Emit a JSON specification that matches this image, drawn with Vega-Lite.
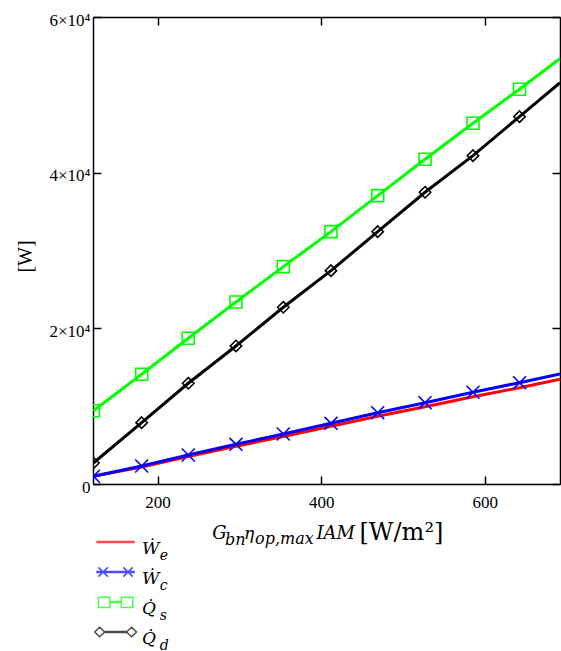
{
  "$schema": "https://vega.github.io/schema/vega-lite/v6.json",
  "width": 467,
  "height": 467,
  "autosize": {"type": "none"},
  "padding": {"left": 93, "top": 17, "right": 1, "bottom": 167},
  "background": "white",
  "config": {
    "view": {"stroke": null},
    "axis": {"grid": false, "domainColor": "black", "domainWidth": 1.5, "tickColor": "black", "tickWidth": 1.5, "labelColor": "black", "titleColor": "black"}
  },
  "data": {
    "values": [
      {"x": 121.5, "y": 1000, "s": "We"},
      {"x": 180.5, "y": 2185, "s": "We"},
      {"x": 237.5, "y": 3534, "s": "We"},
      {"x": 295.8, "y": 4845, "s": "We"},
      {"x": 353.7, "y": 6104, "s": "We"},
      {"x": 412.0, "y": 7415, "s": "We"},
      {"x": 469.1, "y": 8712, "s": "We"},
      {"x": 527.0, "y": 9933, "s": "We"},
      {"x": 585.6, "y": 11206, "s": "We"},
      {"x": 642.5, "y": 12376, "s": "We"},
      {"x": 692.0, "y": 13454, "s": "We"},
      {"x": 121.5, "y": 1000, "s": "Wc"},
      {"x": 180.5, "y": 2313, "s": "Wc"},
      {"x": 237.5, "y": 3727, "s": "Wc"},
      {"x": 295.8, "y": 5102, "s": "Wc"},
      {"x": 353.7, "y": 6425, "s": "Wc"},
      {"x": 412.0, "y": 7800, "s": "Wc"},
      {"x": 469.1, "y": 9162, "s": "Wc"},
      {"x": 527.0, "y": 10447, "s": "Wc"},
      {"x": 585.6, "y": 11784, "s": "Wc"},
      {"x": 642.5, "y": 13018, "s": "Wc"},
      {"x": 692.0, "y": 14135, "s": "Wc"},
      {"x": 121.5, "y": 9406, "s": "Qs"},
      {"x": 180.5, "y": 14096, "s": "Qs"},
      {"x": 237.5, "y": 18722, "s": "Qs"},
      {"x": 295.8, "y": 23387, "s": "Qs"},
      {"x": 353.7, "y": 27924, "s": "Qs"},
      {"x": 412.0, "y": 32421, "s": "Qs"},
      {"x": 469.1, "y": 37050, "s": "Qs"},
      {"x": 527.0, "y": 41724, "s": "Qs"},
      {"x": 585.6, "y": 46350, "s": "Qs"},
      {"x": 642.5, "y": 50719, "s": "Qs"},
      {"x": 692.0, "y": 54664, "s": "Qs"},
      {"x": 121.5, "y": 2700, "s": "Qd"},
      {"x": 180.5, "y": 7877, "s": "Qd"},
      {"x": 237.5, "y": 12940, "s": "Qd"},
      {"x": 295.8, "y": 17733, "s": "Qd"},
      {"x": 353.7, "y": 22706, "s": "Qd"},
      {"x": 412.0, "y": 27409, "s": "Qd"},
      {"x": 469.1, "y": 32421, "s": "Qd"},
      {"x": 527.0, "y": 37484, "s": "Qd"},
      {"x": 585.6, "y": 42187, "s": "Qd"},
      {"x": 642.5, "y": 47198, "s": "Qd"},
      {"x": 692.0, "y": 51550, "s": "Qd"}
    ]
  },
  "resolve": {
    "scale": {"color": "independent", "shape": "independent"},
    "axis": {"x": "independent", "y": "independent"}
  },
  "layer": [
    {
      "mark": {"type": "line", "strokeWidth": 3, "clip": true},
      "encoding": {
        "x": {"field": "x", "type": "quantitative", "scale": {"domain": [121, 692], "nice": false, "zero": false},
          "axis": {"orient": "bottom", "values": [200, 400, 600], "tickSize": -8, "labelPadding": 18, "labelFont": "Liberation Serif", "labelFontSize": 17, "labelBaseline": "top", "title": null}},
        "y": {"field": "y", "type": "quantitative", "scale": {"domain": [0, 60000], "nice": false},
          "axis": {"orient": "left", "values": [0, 20000, 40000, 60000], "tickSize": -8, "labelPadding": 11, "labelOffset": 3, "labelFont": "Liberation Serif", "labelFontSize": 17,
            "labelExpr": "datum.value == 0 ? '0' : (datum.value / 10000) + '\u00d710\u2074'",
            "title": "[W]", "titleFont": "Liberation Serif", "titleFontSize": 20, "titleFontWeight": "normal", "titleAngle": -90, "titleAlign": "center", "titleBaseline": "middle", "titleX": -68, "titleY": 239}},
        "color": {"field": "s", "type": "nominal", "scale": {"domain": ["We", "Wc", "Qs", "Qd"], "range": ["#ff0000", "#0000ff", "#00ff00", "#000000"]}, "legend": null}
      }
    },
    {
      "transform": [{"filter": "datum.s != 'We' && datum.x < 690"}],
      "mark": {"type": "point", "filled": false, "size": 144, "strokeWidth": 1.6, "opacity": 1, "clip": true},
      "encoding": {
        "x": {"field": "x", "type": "quantitative", "axis": {"orient": "top", "values": [200, 400, 600], "tickSize": -8, "labels": false, "title": null}},
        "y": {"field": "y", "type": "quantitative", "axis": {"orient": "right", "values": [0, 20000, 40000, 60000], "tickSize": -8, "labels": false, "title": null}},
        "color": {"field": "s", "type": "nominal", "scale": {"domain": ["Wc", "Qs", "Qd"], "range": ["#0000ff", "#00ff00", "#000000"]}, "legend": null},
        "shape": {"field": "s", "type": "nominal", "scale": {"domain": ["Wc", "Qs", "Qd"], "range": ["M-1.08,-1.08L1.08,1.08M1.08,-1.08L-1.08,1.08", "M-1,-1H1V1H-1Z", "M0,-0.95L0.95,0L0,0.95L-0.95,0Z"]}, "legend": null}
      }
    },
    {
      "transform": [{"filter": "datum.x < 0"}],
      "mark": {"type": "point", "filled": false},
      "encoding": {
        "x": {"field": "x", "type": "quantitative", "axis": {"orient": "bottom", "domain": false, "ticks": false, "labels": false, "title": "G", "titleFont": "DejaVu Serif", "titleFontStyle": "italic", "titleFontWeight": "normal", "titleFontSize": 18, "titleAlign": "left", "titleBaseline": "alphabetic", "titleX": 118.7, "titleY": 54}},
        "color": {"field": "s", "type": "nominal", "scale": {"domain": ["We", "Wc", "Qs", "Qd"], "range": ["#ff0000", "#0000ff", "#00ff00", "#000000"]},
          "legend": {"orient": "none", "legendX": 9.6, "legendY": 519, "title": null, "symbolSize": 562, "symbolStrokeWidth": 1.5, "symbolFillColor": "transparent", "padding": 0, "rowPadding": 0, "labelOffset": 13.4, "labelFont": "DejaVu Serif", "labelFontStyle": "italic", "labelFontSize": 17, "labelColor": "black",
            "labelExpr": "datum.label == 'We' || datum.label == 'Wc' ? '\u1e86' : 'Q\u0307'"}},
        "shape": {"field": "s", "type": "nominal", "scale": {"domain": ["We", "Wc", "Qs", "Qd"], "range": [
          "M0,-1L0,-1M0,1L0,1M-1.56,-0.64H1.56V-0.54H-1.56Z",
          "M0,-1L0,-1M0,1L0,1M-1.56,-0.64H1.56V-0.54H-1.56ZM-1.45,-0.98L-0.65,-0.2M-0.65,-0.98L-1.45,-0.2M0.65,-0.98L1.45,-0.2M1.45,-0.98L0.65,-0.2",
          "M0,-1L0,-1M0,1L0,1M-0.48,-0.64H0.48V-0.54H-0.48ZM-1.45,-1.0H-0.48V-0.12H-1.45ZM0.48,-1.0H1.45V-0.12H0.48Z",
          "M0,-1L0,-1M0,1L0,1M-0.92,-0.64H0.92V-0.54H-0.92ZM-1.76,-0.59L-1.35,-0.99L-0.92,-0.59L-1.35,-0.19ZM0.92,-0.59L1.35,-0.99L1.76,-0.59L1.35,-0.19Z"
        ]},
          "legend": {"orient": "none", "legendX": 9.6, "legendY": 519, "title": null, "symbolSize": 562, "symbolStrokeWidth": 1.5, "symbolFillColor": "transparent", "padding": 0, "rowPadding": 0, "labelOffset": 13.4, "labelFont": "DejaVu Serif", "labelFontStyle": "italic", "labelFontSize": 17, "labelColor": "black",
            "labelExpr": "datum.label == 'We' || datum.label == 'Wc' ? '\u1e86' : 'Q\u0307'"}}
      }
    },
    {
      "transform": [{"filter": "datum.x < 0"}],
      "mark": {"type": "point", "filled": false},
      "encoding": {
        "x": {"field": "x", "type": "quantitative", "axis": {"orient": "bottom", "domain": false, "ticks": false, "labels": false, "title": "bn", "titleFont": "DejaVu Serif", "titleFontStyle": "italic", "titleFontWeight": "normal", "titleFontSize": 16, "titleAlign": "left", "titleBaseline": "alphabetic", "titleX": 131.5, "titleY": 60}},
        "shape": {"field": "s", "type": "nominal", "scale": {"domain": ["We", "Wc", "Qs", "Qd"], "range": ["M0,-1L0,-1M0,1L0,1", "M0,-1L0,-1M0,1L0,1", "M0,-1L0,-1M0,1L0,1", "M0,-1L0,-1M0,1L0,1"]},
          "legend": {"orient": "none", "legendX": 27.4, "legendY": 525.5, "title": null, "symbolSize": 562, "symbolStrokeWidth": 1.5, "padding": 0, "rowPadding": 0, "labelOffset": 13.4, "labelFont": "DejaVu Serif", "labelFontStyle": "italic", "labelFontSize": 14, "labelColor": "black",
            "labelExpr": "datum.label == 'We' ? 'e' : datum.label == 'Wc' ? 'c' : datum.label == 'Qs' ? 's' : 'd'"}}
      }
    },
    {
      "transform": [{"filter": "datum.x < 0"}],
      "mark": {"type": "point"},
      "encoding": {
        "x": {"field": "x", "type": "quantitative", "axis": {"orient": "bottom", "domain": false, "ticks": false, "labels": false, "title": "\u03b7", "titleFont": "DejaVu Serif", "titleFontStyle": "italic", "titleFontWeight": "normal", "titleFontSize": 17, "titleAlign": "left", "titleBaseline": "alphabetic", "titleX": 150.5, "titleY": 54}}
      }
    },
    {
      "transform": [{"filter": "datum.x < 0"}],
      "mark": {"type": "point"},
      "encoding": {
        "x": {"field": "x", "type": "quantitative", "axis": {"orient": "bottom", "domain": false, "ticks": false, "labels": false, "title": "op,max", "titleFont": "DejaVu Serif", "titleFontStyle": "italic", "titleFontWeight": "normal", "titleFontSize": 16, "titleAlign": "left", "titleBaseline": "alphabetic", "titleX": 161.5, "titleY": 59}}
      }
    },
    {
      "transform": [{"filter": "datum.x < 0"}],
      "mark": {"type": "point"},
      "encoding": {
        "x": {"field": "x", "type": "quantitative", "axis": {"orient": "bottom", "domain": false, "ticks": false, "labels": false, "title": "IAM", "titleFont": "DejaVu Serif", "titleFontStyle": "italic", "titleFontWeight": "normal", "titleFontSize": 18, "titleAlign": "left", "titleBaseline": "alphabetic", "titleX": 223, "titleY": 54}}
      }
    },
    {
      "transform": [{"filter": "datum.x < 0"}],
      "mark": {"type": "point"},
      "encoding": {
        "x": {"field": "x", "type": "quantitative", "axis": {"orient": "bottom", "domain": false, "ticks": false, "labels": false, "title": "[W/m\u00b2]", "titleFont": "DejaVu Serif", "titleFontStyle": "normal", "titleFontWeight": "normal", "titleFontSize": 24, "titleAlign": "left", "titleBaseline": "alphabetic", "titleX": 266, "titleY": 55}}
      }
    }
  ]
}
